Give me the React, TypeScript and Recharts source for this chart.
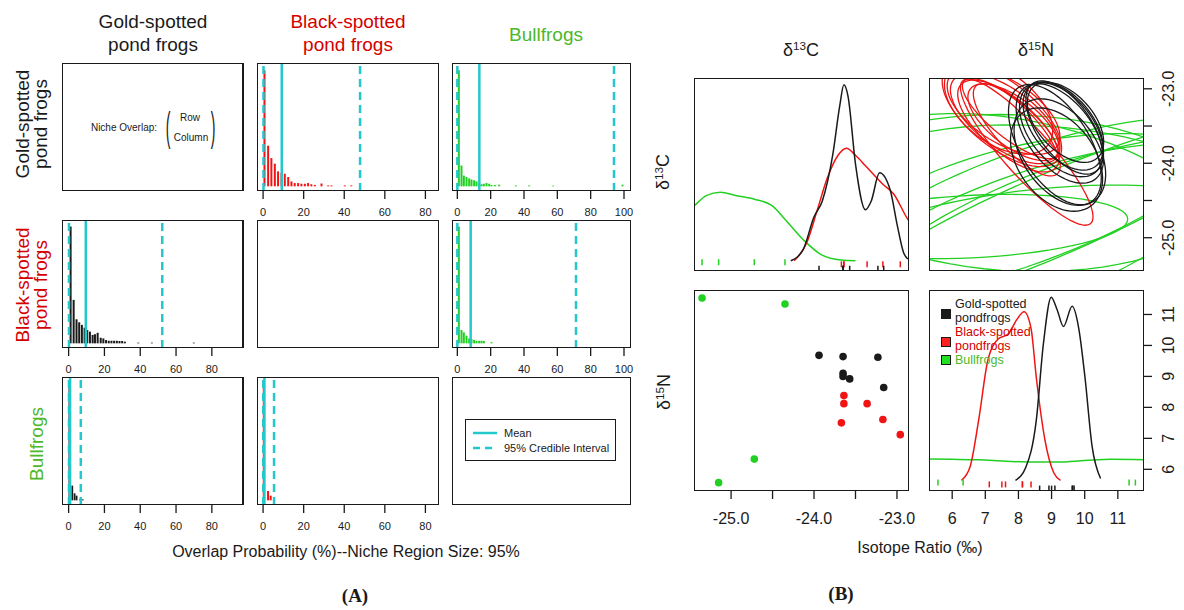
import React from 'react';
import { ComposedChart, Bar, Line, Scatter, XAxis, YAxis, ReferenceLine } from 'recharts';

const FONT = '"Liberation Sans", Arial, Helvetica, sans-serif';
const CYAN = '#22c8cc';
const RED = '#f01414';
const GREEN = '#22d022';
const INK = '#1a1a1a';
const TITLE_RED = '#d40000';
const TITLE_GREEN = '#4cb82a';

// ---------- (A) overlap histograms: bin centre (%) and relative height ----------
const goldBlackX = [0.5, 2.3, 3.9, 5.6, 7.2, 8.9, 10.5, 12.2, 13.8, 15.4, 17.1, 18.7, 20.4, 22.0, 23.6, 25.3, 28.6, 31.9, 33.5, 40.1, 43.3];
const goldBlackH = [4.97, 1.74, 1.21, 0.97, 0.64, 0.58, 0.54, 0.4, 0.21, 0.14, 0.14, 0.11, 0.11, 0.14, 0.09, 0.06, 0.12, 0.04, 0.04, 0.04, 0.04];
const goldBullX = [1.0, 2.6, 4.0, 5.6, 7.2, 8.6, 10.2, 11.6, 13.1, 14.6, 16.0, 17.6, 19.2, 20.6, 22.6, 25.2, 35.2, 43.2, 57.6, 99.2];
const goldBullH = [4.97, 0.89, 0.46, 0.4, 0.34, 0.29, 0.26, 0.21, 0.12, 0.09, 0.11, 0.14, 0.11, 0.06, 0.06, 0.07, 0.04, 0.04, 0.03, 0.07];
const blackGoldX = [1.2, 2.9, 4.5, 6.0, 7.5, 9.0, 10.5, 12.0, 13.5, 14.8, 16.3, 18.0, 19.5, 21.0, 22.5, 24.0, 25.5, 27.0, 28.5, 30.0, 31.5, 39.0, 46.6, 70.0];
const blackGoldH = [5.0, 1.86, 1.03, 0.9, 0.79, 0.67, 0.57, 0.5, 0.36, 0.39, 0.45, 0.24, 0.21, 0.14, 0.11, 0.11, 0.11, 0.11, 0.1, 0.1, 0.07, 0.03, 0.03, 0.03];
const blackBullX = [1.0, 2.6, 4.0, 5.6, 7.2, 8.6, 10.2, 11.6, 13.2, 14.6, 16.0, 20.6];
const blackBullH = [5.0, 0.57, 0.47, 0.33, 0.21, 0.18, 0.14, 0.11, 0.11, 0.11, 0.1, 0.05];
const bullGoldX = [0.5, 2.1, 3.4, 4.5, 6.5, 8.0];
const bullGoldH = [5.0, 0.63, 0.3, 0.2, 0.05, 0.04];
const bullBlackX = [0.5, 2.6, 3.9];
const bullBlackH = [5.0, 0.4, 0.2];

// [lower 95% CI, mean, upper 95% CI]
const goldBlackStats = [0.2, 9.2, 47.8];
const goldBullStats = [0, 13.2, 94];
const blackGoldStats = [0.2, 9.6, 52.3];
const blackBullStats = [0, 8.0, 71.2];
const bullGoldStats = [0.2, 0.8, 6.8];
const bullBlackStats = [0.1, 0.65, 5.4];

const pctTicks = [0, 20, 40, 60, 80];
const pctTicks100 = [0, 20, 40, 60, 80, 100];
const histYTicks = [0, 1, 2, 3, 4, 5];

// ---------- (B) isotope data: [d13C, d15N] ----------
const goldPts = [[-23.94, 9.68], [-23.65, 9.64], [-23.23, 9.62], [-23.65, 9.1], [-23.65, 9.0], [-23.57, 8.92], [-23.16, 8.64]];
const blackPts = [[-23.64, 8.38], [-23.64, 8.12], [-23.36, 8.12], [-23.67, 7.5], [-23.17, 7.61], [-22.96, 7.12]];
const bullPts = [[-25.35, 11.53], [-24.35, 11.34], [-24.72, 6.33], [-25.15, 5.57]];

// d13C densities [x, density]
const goldC = [[-24.28, 0], [-24.13, 0.065], [-24.0, 0.25], [-23.9, 0.34], [-23.775, 0.6], [-23.69, 0.88], [-23.64, 1.0], [-23.59, 0.935], [-23.5, 0.55], [-23.38, 0.29], [-23.31, 0.34], [-23.21, 0.5], [-23.08, 0.4], [-23.0, 0.21], [-22.92, 0.046], [-22.87, 0.01]];
const blackC = [[-24.24, 0], [-24.09, 0.1], [-23.96, 0.29], [-23.84, 0.47], [-23.71, 0.6], [-23.61, 0.64], [-23.5, 0.6], [-23.38, 0.54], [-23.17, 0.435], [-23.04, 0.38], [-22.875, 0.24], [-22.8, 0.19]];
const bullC = [[-25.55, 0.27], [-25.45, 0.31], [-25.3, 0.37], [-25.13, 0.39], [-24.93, 0.37], [-24.72, 0.35], [-24.51, 0.315], [-24.34, 0.23], [-24.13, 0.12], [-23.92, 0.037], [-23.67, 0.004], [-23.5, 0]];
// d15N densities
const goldN = [[7.91, 0], [8.22, 0.07], [8.54, 0.33], [8.75, 0.74], [8.99, 1.0], [9.17, 0.93], [9.36, 0.84], [9.62, 0.95], [9.82, 0.83], [10.01, 0.56], [10.22, 0.19], [10.48, 0.01]];
const blackN = [[6.28, 0], [6.54, 0.074], [6.8, 0.33], [7.07, 0.65], [7.38, 0.77], [7.7, 0.8], [7.96, 0.88], [8.17, 0.92], [8.38, 0.83], [8.54, 0.56], [8.8, 0.22], [9.07, 0.04], [9.27, 0]];
const bullN = [[5.3, 0.117], [6.0, 0.115], [6.8, 0.112], [7.6, 0.105], [8.4, 0.1], [9.2, 0.1], [10.0, 0.108], [10.8, 0.115], [11.8, 0.113]];

// niche ellipses: [centre d15N, centre d13C, major dx, major dy, minor dx, minor dy]
const goldEllipses = [
  [9.35, -23.5, 0.95, -0.55, -0.75, -0.22],
  [9.3, -23.55, 1.0, -0.58, -0.78, -0.25],
  [9.42, -23.45, 0.9, -0.5, -0.72, -0.2],
  [9.25, -23.6, 1.05, -0.62, -0.8, -0.25],
  [9.38, -23.52, 0.92, -0.6, -0.7, -0.18],
  [9.15, -23.95, 1.1, -0.6, -0.85, -0.35],
  [9.25, -23.85, 1.05, -0.65, -0.9, -0.3],
  [9.1, -23.75, 1.15, -0.75, -0.8, -0.3],
];
const blackEllipses = [
  [7.6, -23.4, 1.56, -0.52, -0.55, -0.31],
  [7.7, -23.5, 1.45, -0.55, -0.5, -0.28],
  [7.5, -23.35, 1.7, -0.6, -0.6, -0.35],
  [7.85, -23.45, 1.3, -0.45, -0.45, -0.25],
  [7.55, -23.3, 1.6, -0.48, -0.58, -0.33],
  [7.95, -23.55, 1.25, -0.58, -0.4, -0.22],
  [8.25, -23.85, 1.95, -0.95, -0.45, -0.25],
  [7.4, -23.25, 1.5, -0.5, -0.65, -0.38],
  [7.75, -23.4, 1.4, -0.5, -0.35, -0.2],
];
const bullEllipses = [
  [8.6, -24.9, 6.5, -0.6, 0, 1.45],
  [8.7, -24.9, 6.5, 0.5, 0, 1.2],
  [8.7, -25.0, 6.0, 1.0, 0, 0.9],
  [8.5, -25.1, 6.5, 0.3, 0, 0.75],
  [6.6, -24.85, 4.7, 0.1, 0, 0.42],
  [8.8, -24.8, 7.0, -0.2, 0, 1.3],
  [9.0, -25.0, 6.5, 0.8, 0, 1.0],
  [9.0, -24.7, 6.5, 1.2, 0, 0.6],
  [8.2, -24.6, 6.0, 0.9, 0, 0.8],
  [8.0, -24.4, 6.0, -0.1, 0, 1.05],
];

const cTicks = [-25, -24.5, -24, -23.5, -23];
const nTicks = [6, 7, 8, 9, 10, 11];
const cDomain: [number, number] = [-25.447, -22.855];
const nDomain: [number, number] = [5.3, 11.79];
const densDomain: [number, number] = [-0.058, 1.039];

const bins = (xs: number[], hs: number[]) => xs.map((x, i) => ({ x, h: hs[i] }));
const pts = (arr: number[][]) => arr.map((p) => ({ x: p[0], y: p[1] }));
const ANGLES = Array.from({ length: 73 }, (_, i) => (i * 5 * Math.PI) / 180);
const ellipse = (e: number[]) =>
  ANGLES.map((t) => ({ x: e[0] + e[2] * Math.cos(t) + e[4] * Math.sin(t), y: e[1] + e[3] * Math.cos(t) + e[5] * Math.sin(t) }));
const rug = (vals: number[], y: number) => vals.map((x) => ({ x, y }));

function Txt({ x, y, size, color = INK, rotate = 0, lh, weight, family, children }: any) {
  return (
    <div
      style={{
        position: 'absolute', left: x, top: y, transform: `translate(-50%, -50%) rotate(${rotate}deg)`,
        fontSize: size, color, lineHeight: lh ? `${lh}px` : 1.15, fontWeight: weight, fontFamily: family ?? FONT,
        whiteSpace: 'pre', textAlign: 'center',
      }}
    >
      {children}
    </div>
  );
}

function Frame({ left, top, w, h }: any) {
  return <div style={{ position: 'absolute', left, top, width: w, height: h, border: `1.5px solid ${INK}`, boxSizing: 'border-box' }} />;
}

function HistPanel({ left, top, w, h, domain, ticks, strip, data, color, stats }: any) {
  const stripW = strip ? 14 : 0;
  const axisH = ticks ? 32 : 0;
  const padR = 14;
  return (
    <>
      <div style={{ position: 'absolute', left: left - stripW, top }}>
        <ComposedChart width={w + stripW + padR} height={h + axisH} data={data ?? []} margin={{ top: 0, right: padR, bottom: 0, left: 0 }}>
          <XAxis type="number" dataKey="x" domain={domain} ticks={ticks} hide={!ticks} allowDataOverflow interval={0}
            axisLine={false} tickSize={8} tickMargin={9} height={axisH}
            tickLine={{ stroke: INK, strokeWidth: 1.3 }} tick={{ fontSize: 11, fill: INK, fontFamily: FONT }} />
          <YAxis type="number" dataKey="h" domain={[-0.2, 5.28]} ticks={histYTicks} hide={!strip} width={stripW}
            tickSize={14} tick={false} axisLine={false} allowDataOverflow interval={0}
            tickLine={{ stroke: INK, strokeWidth: 1.3 }} />
          {data && <Bar dataKey="h" fill={color} barSize={2} isAnimationActive={false} />}
          {stats && <ReferenceLine x={stats[0]} stroke={CYAN} strokeWidth={2.5} strokeDasharray="8 5" />}
          {stats && <ReferenceLine x={stats[1]} stroke={CYAN} strokeWidth={2.5} />}
          {stats && <ReferenceLine x={stats[2]} stroke={CYAN} strokeWidth={2.5} strokeDasharray="8 5" />}
        </ComposedChart>
      </div>
      {strip && <div style={{ position: 'absolute', left: left - stripW, top, width: 0, height: h, borderLeft: `1.5px solid ${INK}` }} />}
      <Frame left={left} top={top} w={w} h={h} />
    </>
  );
}

const RotTick = ({ x, y, payload, fmt }: any) => {
  const label = fmt(payload.value);
  if (!label) return <g />;
  return (
    <text transform={`translate(${x + 20},${y}) rotate(-90)`} textAnchor="middle" fontSize={16} fill={INK} fontFamily={FONT}>
      {label}
    </text>
  );
};

const cLabel = (v: number) => (Number.isInteger(v) ? v.toFixed(1) : '');
const nLabel = (v: number) => String(v);

function BPanel({ left, top, w, h, xDomain, xTicks, xLabel, yDomain, rDomain, rTicks, rLabel, children }: any) {
  const axisH = xLabel ? 40 : 10;
  const axisW = rLabel ? 40 : 10;
  const padT = 24;
  return (
    <>
      <div style={{ position: 'absolute', left, top: top - padT }}>
        <ComposedChart width={w + axisW} height={h + axisH + padT} margin={{ top: padT, right: 0, bottom: 0, left: 0 }}>
          <XAxis type="number" dataKey="x" domain={xDomain} ticks={xTicks} allowDataOverflow interval={0}
            axisLine={false} tickSize={8} tickMargin={14} height={axisH}
            tickLine={{ stroke: INK, strokeWidth: 1.3 }}
            tick={xLabel ? { fontSize: 16, fill: INK, fontFamily: FONT } : false} tickFormatter={xLabel} />
          <YAxis yAxisId="d" type="number" dataKey="y" domain={yDomain} allowDataOverflow hide />
          <YAxis yAxisId="r" orientation="right" type="number" domain={rDomain} ticks={rTicks} allowDataOverflow interval={0}
            axisLine={false} tickSize={8} width={axisW} tickLine={{ stroke: INK, strokeWidth: 1.3 }}
            tick={rLabel ? <RotTick fmt={rLabel} /> : false} />
          {children}
        </ComposedChart>
      </div>
      <Frame left={left} top={top} w={w} h={h} />
    </>
  );
}

const curve = (data: number[][], color: string, key: string) => (
  <Line key={key} yAxisId="d" data={pts(data)} dataKey="y" type="monotone" stroke={color} strokeWidth={1.5} dot={false} activeDot={false} isAnimationActive={false} />
);
const ring = (e: number[], color: string, key: string) => (
  <Line key={key} yAxisId="d" data={ellipse(e)} dataKey="y" type="linear" stroke={color} strokeWidth={1.3} dot={false} activeDot={false} isAnimationActive={false} />
);
const rugMarks = (vals: number[], y: number, color: string, key: string) => (
  <Scatter key={key} yAxisId="d" data={rug(vals, y)} isAnimationActive={false}
    shape={(p: any) => <line x1={p.cx} x2={p.cx} y1={p.cy - 3} y2={p.cy + 3} stroke={color} strokeWidth={1.5} />} />
);
const dots = (arr: number[][], color: string, key: string) => (
  <Scatter key={key} yAxisId="d" data={pts(arr)} isAnimationActive={false}
    shape={(p: any) => <circle cx={p.cx} cy={p.cy} r={3.8} fill={color} />} />
);

const Delta = ({ iso, el }: any) => (
  <span>δ<span style={{ fontSize: '0.65em', position: 'relative', top: '-0.55em' }}>{iso}</span>{el}</span>
);

export default function App() {
  const colL = [62, 257, 452];
  const colW = [181, 182, 179];
  const colDom = [[-3.7, 97.4], [-3, 86.7], [-3.2, 104.2]];
  const rowT = [63, 220, 377];
  const H = 128;
  const P = (r: number, c: number, extra: any) => (
    <HistPanel key={`${r}-${c}`} left={colL[c]} top={rowT[r]} w={colW[c]} h={H} domain={colDom[c]} {...extra} />
  );

  const cOf = (a: number[][]) => a.map((p) => p[0]);
  const nOf = (a: number[][]) => a.map((p) => p[1]);
  const bLeft = [694, 929];
  const bW = 215;

  return (
    <div style={{ position: 'absolute', left: 0, top: 0, width: 1184, height: 610, background: '#fff', fontFamily: FONT, overflow: 'hidden' }}>
      {/* ---------------- (A) ---------------- */}
      <Txt x={153} y={33} size={19} lh={23}>{'Gold-spotted\npond frogs'}</Txt>
      <Txt x={348} y={33} size={19} lh={23} color={TITLE_RED}>{'Black-spotted\npond frogs'}</Txt>
      <Txt x={546} y={35} size={19} color={TITLE_GREEN}>Bullfrogs</Txt>
      <Txt x={32} y={124} size={19} lh={18} rotate={-90}>{'Gold-spotted\npond frogs'}</Txt>
      <Txt x={32} y={285} size={19} lh={18} rotate={-90} color={TITLE_RED}>{'Black-spotted\npond frogs'}</Txt>
      <Txt x={37} y={444} size={19} rotate={-90} color={TITLE_GREEN}>Bullfrogs</Txt>

      {P(0, 0, {})}
      {P(0, 1, { strip: true, ticks: pctTicks, data: bins(goldBlackX, goldBlackH), color: RED, stats: goldBlackStats })}
      {P(0, 2, { strip: true, ticks: pctTicks100, data: bins(goldBullX, goldBullH), color: GREEN, stats: goldBullStats })}
      {P(1, 0, { ticks: pctTicks, data: bins(blackGoldX, blackGoldH), color: INK, stats: blackGoldStats })}
      {P(1, 1, { strip: true })}
      {P(1, 2, { strip: true, ticks: pctTicks100, data: bins(blackBullX, blackBullH), color: GREEN, stats: blackBullStats })}
      {P(2, 0, { ticks: pctTicks, data: bins(bullGoldX, bullGoldH), color: INK, stats: bullGoldStats })}
      {P(2, 1, { strip: true, ticks: pctTicks, data: bins(bullBlackX, bullBlackH), color: RED, stats: bullBlackStats })}
      {P(2, 2, { strip: true })}

      {/* niche overlap note */}
      <Txt x={124} y={128} size={10}>Niche Overlap:</Txt>
      <Txt x={168} y={127} size={40}><span style={{ display: 'inline-block', transform: 'scaleX(0.35)', fontWeight: 200 }}>(</span></Txt>
      <Txt x={213} y={127} size={40}><span style={{ display: 'inline-block', transform: 'scaleX(0.35)', fontWeight: 200 }}>)</span></Txt>
      <Txt x={190} y={118} size={10}>Row</Txt>
      <Txt x={191} y={138} size={10}>Column</Txt>

      {/* legend */}
      <div style={{ position: 'absolute', left: 465, top: 419, width: 151, height: 42, border: `1.5px solid ${INK}`, boxSizing: 'border-box', background: '#fff' }}>
        <svg width={30} height={40} style={{ position: 'absolute', left: 5, top: 0 }}>
          <line x1={2} x2={26} y1={13} y2={13} stroke={CYAN} strokeWidth={2.5} />
          <line x1={2} x2={26} y1={28} y2={28} stroke={CYAN} strokeWidth={2.5} strokeDasharray="7 5" />
        </svg>
        <div style={{ position: 'absolute', left: 38, top: 6, fontSize: 11, lineHeight: '15px', color: INK }}>
          Mean<br />95% Credible Interval
        </div>
      </div>

      <Txt x={346} y={552} size={16}>Overlap Probability (%)--Niche Region Size: 95%</Txt>
      <Txt x={355} y={596} size={19} weight={700} family='"Liberation Serif", "Times New Roman", serif'>(A)</Txt>

      {/* ---------------- (B) ---------------- */}
      <Txt x={801} y={50} size={18}><Delta iso="13" el="C" /></Txt>
      <Txt x={1036} y={50} size={18}><Delta iso="15" el="N" /></Txt>
      <Txt x={663} y={172} size={18} rotate={-90}><Delta iso="13" el="C" /></Txt>
      <Txt x={664} y={392} size={18} rotate={-90}><Delta iso="15" el="N" /></Txt>

      <BPanel left={bLeft[0]} top={78} w={bW} h={193} xDomain={cDomain} xTicks={cTicks} yDomain={densDomain} rDomain={cDomain} rTicks={cTicks}>
        {[
          curve(bullC, GREEN, 'g'),
          curve(blackC, RED, 'r'),
          curve(goldC, INK, 'k'),
          rugMarks(cOf(bullPts), -0.008, GREEN, 'rg'),
          rugMarks(cOf(blackPts), -0.02, RED, 'rr'),
          rugMarks(cOf(goldPts), -0.045, INK, 'rk'),
        ]}
      </BPanel>

      <BPanel left={bLeft[1]} top={78} w={bW} h={193} xDomain={nDomain} xTicks={nTicks} yDomain={cDomain} rDomain={cDomain} rTicks={cTicks} rLabel={cLabel}>
        {[
          ...bullEllipses.map((e, i) => ring(e, GREEN, `eg${i}`)),
          ...blackEllipses.map((e, i) => ring(e, RED, `er${i}`)),
          ...goldEllipses.map((e, i) => ring(e, INK, `ek${i}`)),
        ]}
      </BPanel>

      <BPanel left={bLeft[0]} top={290} w={bW} h={201} xDomain={cDomain} xTicks={cTicks} xLabel={cLabel} yDomain={nDomain} rDomain={nDomain} rTicks={nTicks}>
        {[dots(bullPts, GREEN, 'dg'), dots(goldPts, INK, 'dk'), dots(blackPts, RED, 'dr')]}
      </BPanel>

      <BPanel left={bLeft[1]} top={290} w={bW} h={201} xDomain={nDomain} xTicks={nTicks} xLabel={nLabel} yDomain={densDomain} rDomain={nDomain} rTicks={nTicks} rLabel={nLabel}>
        {[
          curve(bullN, GREEN, 'g'),
          curve(blackN, RED, 'r'),
          curve(goldN, INK, 'k'),
          rugMarks(nOf(bullPts), -0.012, GREEN, 'rg'),
          rugMarks(nOf(blackPts), -0.022, RED, 'rr'),
          rugMarks(nOf(goldPts), -0.045, INK, 'rk'),
        ]}
      </BPanel>

      {/* species legend */}
      {[
        { label: 'Gold-spotted\npondfrogs', fill: INK, color: INK, top: 297 },
        { label: 'Black-spotted\npondfrogs', fill: '#ff2020', color: TITLE_RED, top: 325 },
        { label: 'Bullfrogs', fill: '#22e022', color: TITLE_GREEN, top: 353 },
      ].map((s) => (
        <div key={s.label} style={{ position: 'absolute', left: 941, top: s.top }}>
          <div style={{ position: 'absolute', left: 0, top: s.label.includes('\n') ? 12 : 2, width: 10, height: 10, background: s.fill, border: `1.2px solid ${INK}`, boxSizing: 'border-box' }} />
          <div style={{ position: 'absolute', left: 14, top: 0, fontSize: 12.5, lineHeight: '14px', color: s.color, whiteSpace: 'pre' }}>{s.label}</div>
        </div>
      ))}

      <Txt x={920} y={548} size={16}>Isotope Ratio (‰)</Txt>
      <Txt x={841} y={594} size={19} weight={700} family='"Liberation Serif", "Times New Roman", serif'>(B)</Txt>
    </div>
  );
}
